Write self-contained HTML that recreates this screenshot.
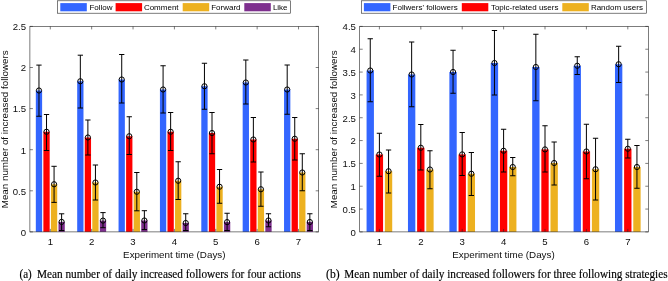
<!DOCTYPE html>
<html><head><meta charset="utf-8"><title>Figure</title>
<style>html,body{margin:0;padding:0;background:#fff}svg{display:block}</style></head>
<body>
<svg width="668" height="281" viewBox="0 0 668 281">
<rect width="668" height="281" fill="#fff"/>
<rect x="35.82" y="90.50" width="6.30" height="141.40" fill="#3366FF"/>
<rect x="43.37" y="131.75" width="6.30" height="100.15" fill="#FF0000"/>
<rect x="50.92" y="184.25" width="6.30" height="47.65" fill="#EDB120"/>
<rect x="58.48" y="221.90" width="6.30" height="10.00" fill="#7E2F8E"/>
<rect x="77.19" y="81.25" width="6.30" height="150.65" fill="#3366FF"/>
<rect x="84.74" y="137.50" width="6.30" height="94.40" fill="#FF0000"/>
<rect x="92.29" y="182.50" width="6.30" height="49.40" fill="#EDB120"/>
<rect x="99.84" y="220.60" width="6.30" height="11.30" fill="#7E2F8E"/>
<rect x="118.56" y="79.50" width="6.30" height="152.40" fill="#3366FF"/>
<rect x="126.11" y="136.25" width="6.30" height="95.65" fill="#FF0000"/>
<rect x="133.66" y="191.75" width="6.30" height="40.15" fill="#EDB120"/>
<rect x="141.22" y="220.50" width="6.30" height="11.40" fill="#7E2F8E"/>
<rect x="159.93" y="89.50" width="6.30" height="142.40" fill="#3366FF"/>
<rect x="167.48" y="131.75" width="6.30" height="100.15" fill="#FF0000"/>
<rect x="175.03" y="180.75" width="6.30" height="51.15" fill="#EDB120"/>
<rect x="182.58" y="223.00" width="6.30" height="8.90" fill="#7E2F8E"/>
<rect x="201.30" y="86.25" width="6.30" height="145.65" fill="#3366FF"/>
<rect x="208.85" y="133.00" width="6.30" height="98.90" fill="#FF0000"/>
<rect x="216.40" y="186.75" width="6.30" height="45.15" fill="#EDB120"/>
<rect x="223.95" y="222.10" width="6.30" height="9.80" fill="#7E2F8E"/>
<rect x="242.67" y="82.50" width="6.30" height="149.40" fill="#3366FF"/>
<rect x="250.22" y="139.50" width="6.30" height="92.40" fill="#FF0000"/>
<rect x="257.77" y="189.25" width="6.30" height="42.65" fill="#EDB120"/>
<rect x="265.32" y="220.50" width="6.30" height="11.40" fill="#7E2F8E"/>
<rect x="284.04" y="89.50" width="6.30" height="142.40" fill="#3366FF"/>
<rect x="291.59" y="138.75" width="6.30" height="93.15" fill="#FF0000"/>
<rect x="299.14" y="172.50" width="6.30" height="59.40" fill="#EDB120"/>
<rect x="306.69" y="222.00" width="6.30" height="9.90" fill="#7E2F8E"/>
<rect x="29.9" y="26.4" width="288.8" height="205.5" fill="none" stroke="#262626" stroke-width="0.6"/>
<path d="M50.30 231.9v-3M50.30 26.4v3" stroke="#262626" stroke-width="0.6" fill="none"/>
<text x="50.30" y="244.70" font-size="9.6" font-family="Liberation Sans, Arial, sans-serif" text-anchor="middle" fill="#0d0d0d">1</text>
<path d="M91.67 231.9v-3M91.67 26.4v3" stroke="#262626" stroke-width="0.6" fill="none"/>
<text x="91.67" y="244.70" font-size="9.6" font-family="Liberation Sans, Arial, sans-serif" text-anchor="middle" fill="#0d0d0d">2</text>
<path d="M133.04 231.9v-3M133.04 26.4v3" stroke="#262626" stroke-width="0.6" fill="none"/>
<text x="133.04" y="244.70" font-size="9.6" font-family="Liberation Sans, Arial, sans-serif" text-anchor="middle" fill="#0d0d0d">3</text>
<path d="M174.41 231.9v-3M174.41 26.4v3" stroke="#262626" stroke-width="0.6" fill="none"/>
<text x="174.41" y="244.70" font-size="9.6" font-family="Liberation Sans, Arial, sans-serif" text-anchor="middle" fill="#0d0d0d">4</text>
<path d="M215.78 231.9v-3M215.78 26.4v3" stroke="#262626" stroke-width="0.6" fill="none"/>
<text x="215.78" y="244.70" font-size="9.6" font-family="Liberation Sans, Arial, sans-serif" text-anchor="middle" fill="#0d0d0d">5</text>
<path d="M257.15 231.9v-3M257.15 26.4v3" stroke="#262626" stroke-width="0.6" fill="none"/>
<text x="257.15" y="244.70" font-size="9.6" font-family="Liberation Sans, Arial, sans-serif" text-anchor="middle" fill="#0d0d0d">6</text>
<path d="M298.52 231.9v-3M298.52 26.4v3" stroke="#262626" stroke-width="0.6" fill="none"/>
<text x="298.52" y="244.70" font-size="9.6" font-family="Liberation Sans, Arial, sans-serif" text-anchor="middle" fill="#0d0d0d">7</text>
<path d="M29.9 231.90h3M318.7 231.90h-3" stroke="#262626" stroke-width="0.6" fill="none"/>
<text x="26.10" y="235.70" font-size="9.6" font-family="Liberation Sans, Arial, sans-serif" text-anchor="end" fill="#0d0d0d">0</text>
<path d="M29.9 190.80h3M318.7 190.80h-3" stroke="#262626" stroke-width="0.6" fill="none"/>
<text x="26.10" y="194.60" font-size="9.6" font-family="Liberation Sans, Arial, sans-serif" text-anchor="end" fill="#0d0d0d">0.5</text>
<path d="M29.9 149.70h3M318.7 149.70h-3" stroke="#262626" stroke-width="0.6" fill="none"/>
<text x="26.10" y="153.50" font-size="9.6" font-family="Liberation Sans, Arial, sans-serif" text-anchor="end" fill="#0d0d0d">1</text>
<path d="M29.9 108.60h3M318.7 108.60h-3" stroke="#262626" stroke-width="0.6" fill="none"/>
<text x="26.10" y="112.40" font-size="9.6" font-family="Liberation Sans, Arial, sans-serif" text-anchor="end" fill="#0d0d0d">1.5</text>
<path d="M29.9 67.50h3M318.7 67.50h-3" stroke="#262626" stroke-width="0.6" fill="none"/>
<text x="26.10" y="71.30" font-size="9.6" font-family="Liberation Sans, Arial, sans-serif" text-anchor="end" fill="#0d0d0d">2</text>
<path d="M29.9 26.40h3M318.7 26.40h-3" stroke="#262626" stroke-width="0.6" fill="none"/>
<text x="26.10" y="30.20" font-size="9.6" font-family="Liberation Sans, Arial, sans-serif" text-anchor="end" fill="#0d0d0d">2.5</text>
<path d="M38.97 65.10V116.25M36.32 65.10h5.3M36.32 116.25h5.3" stroke="#000" stroke-width="1" fill="none"/>
<circle cx="38.97" cy="90.50" r="2.6" fill="none" stroke="#000" stroke-width="1"/>
<path d="M46.52 114.50V150.50M43.87 114.50h5.3M43.87 150.50h5.3" stroke="#000" stroke-width="1" fill="none"/>
<circle cx="46.52" cy="131.75" r="2.6" fill="none" stroke="#000" stroke-width="1"/>
<path d="M54.07 166.30V202.40M51.42 166.30h5.3M51.42 202.40h5.3" stroke="#000" stroke-width="1" fill="none"/>
<circle cx="54.07" cy="184.25" r="2.6" fill="none" stroke="#000" stroke-width="1"/>
<path d="M61.62 213.80V230.50M58.98 213.80h5.3M58.98 230.50h5.3" stroke="#000" stroke-width="1" fill="none"/>
<circle cx="61.62" cy="221.90" r="2.6" fill="none" stroke="#000" stroke-width="1"/>
<path d="M80.34 55.20V108.00M77.69 55.20h5.3M77.69 108.00h5.3" stroke="#000" stroke-width="1" fill="none"/>
<circle cx="80.34" cy="81.25" r="2.6" fill="none" stroke="#000" stroke-width="1"/>
<path d="M87.89 120.00V155.00M85.24 120.00h5.3M85.24 155.00h5.3" stroke="#000" stroke-width="1" fill="none"/>
<circle cx="87.89" cy="137.50" r="2.6" fill="none" stroke="#000" stroke-width="1"/>
<path d="M95.44 165.00V200.00M92.79 165.00h5.3M92.79 200.00h5.3" stroke="#000" stroke-width="1" fill="none"/>
<circle cx="95.44" cy="182.50" r="2.6" fill="none" stroke="#000" stroke-width="1"/>
<path d="M102.99 212.60V227.70M100.34 212.60h5.3M100.34 227.70h5.3" stroke="#000" stroke-width="1" fill="none"/>
<circle cx="102.99" cy="220.60" r="2.6" fill="none" stroke="#000" stroke-width="1"/>
<path d="M121.72 54.50V103.00M119.06 54.50h5.3M119.06 103.00h5.3" stroke="#000" stroke-width="1" fill="none"/>
<circle cx="121.72" cy="79.50" r="2.6" fill="none" stroke="#000" stroke-width="1"/>
<path d="M129.26 116.75V154.50M126.61 116.75h5.3M126.61 154.50h5.3" stroke="#000" stroke-width="1" fill="none"/>
<circle cx="129.26" cy="136.25" r="2.6" fill="none" stroke="#000" stroke-width="1"/>
<path d="M136.81 172.50V210.80M134.16 172.50h5.3M134.16 210.80h5.3" stroke="#000" stroke-width="1" fill="none"/>
<circle cx="136.81" cy="191.75" r="2.6" fill="none" stroke="#000" stroke-width="1"/>
<path d="M144.37 210.70V229.60M141.72 210.70h5.3M141.72 229.60h5.3" stroke="#000" stroke-width="1" fill="none"/>
<circle cx="144.37" cy="220.50" r="2.6" fill="none" stroke="#000" stroke-width="1"/>
<path d="M163.08 65.75V113.00M160.43 65.75h5.3M160.43 113.00h5.3" stroke="#000" stroke-width="1" fill="none"/>
<circle cx="163.08" cy="89.50" r="2.6" fill="none" stroke="#000" stroke-width="1"/>
<path d="M170.63 112.50V150.50M167.98 112.50h5.3M167.98 150.50h5.3" stroke="#000" stroke-width="1" fill="none"/>
<circle cx="170.63" cy="131.75" r="2.6" fill="none" stroke="#000" stroke-width="1"/>
<path d="M178.18 161.75V199.50M175.53 161.75h5.3M175.53 199.50h5.3" stroke="#000" stroke-width="1" fill="none"/>
<circle cx="178.18" cy="180.75" r="2.6" fill="none" stroke="#000" stroke-width="1"/>
<path d="M185.73 213.75V230.50M183.08 213.75h5.3M183.08 230.50h5.3" stroke="#000" stroke-width="1" fill="none"/>
<circle cx="185.73" cy="223.00" r="2.6" fill="none" stroke="#000" stroke-width="1"/>
<path d="M204.45 63.25V109.25M201.80 63.25h5.3M201.80 109.25h5.3" stroke="#000" stroke-width="1" fill="none"/>
<circle cx="204.45" cy="86.25" r="2.6" fill="none" stroke="#000" stroke-width="1"/>
<path d="M212.00 112.50V153.75M209.35 112.50h5.3M209.35 153.75h5.3" stroke="#000" stroke-width="1" fill="none"/>
<circle cx="212.00" cy="133.00" r="2.6" fill="none" stroke="#000" stroke-width="1"/>
<path d="M219.55 169.50V203.25M216.90 169.50h5.3M216.90 203.25h5.3" stroke="#000" stroke-width="1" fill="none"/>
<circle cx="219.55" cy="186.75" r="2.6" fill="none" stroke="#000" stroke-width="1"/>
<path d="M227.10 213.25V230.50M224.45 213.25h5.3M224.45 230.50h5.3" stroke="#000" stroke-width="1" fill="none"/>
<circle cx="227.10" cy="222.10" r="2.6" fill="none" stroke="#000" stroke-width="1"/>
<path d="M245.82 60.00V104.00M243.17 60.00h5.3M243.17 104.00h5.3" stroke="#000" stroke-width="1" fill="none"/>
<circle cx="245.82" cy="82.50" r="2.6" fill="none" stroke="#000" stroke-width="1"/>
<path d="M253.37 117.50V162.00M250.72 117.50h5.3M250.72 162.00h5.3" stroke="#000" stroke-width="1" fill="none"/>
<circle cx="253.37" cy="139.50" r="2.6" fill="none" stroke="#000" stroke-width="1"/>
<path d="M260.92 172.00V206.25M258.27 172.00h5.3M258.27 206.25h5.3" stroke="#000" stroke-width="1" fill="none"/>
<circle cx="260.92" cy="189.25" r="2.6" fill="none" stroke="#000" stroke-width="1"/>
<path d="M268.47 213.75V226.75M265.82 213.75h5.3M265.82 226.75h5.3" stroke="#000" stroke-width="1" fill="none"/>
<circle cx="268.47" cy="220.50" r="2.6" fill="none" stroke="#000" stroke-width="1"/>
<path d="M287.19 65.00V114.25M284.54 65.00h5.3M284.54 114.25h5.3" stroke="#000" stroke-width="1" fill="none"/>
<circle cx="287.19" cy="89.50" r="2.6" fill="none" stroke="#000" stroke-width="1"/>
<path d="M294.74 117.50V160.00M292.09 117.50h5.3M292.09 160.00h5.3" stroke="#000" stroke-width="1" fill="none"/>
<circle cx="294.74" cy="138.75" r="2.6" fill="none" stroke="#000" stroke-width="1"/>
<path d="M302.29 153.75V190.75M299.64 153.75h5.3M299.64 190.75h5.3" stroke="#000" stroke-width="1" fill="none"/>
<circle cx="302.29" cy="172.50" r="2.6" fill="none" stroke="#000" stroke-width="1"/>
<path d="M309.84 213.75V230.50M307.19 213.75h5.3M307.19 230.50h5.3" stroke="#000" stroke-width="1" fill="none"/>
<circle cx="309.84" cy="222.00" r="2.6" fill="none" stroke="#000" stroke-width="1"/>
<text x="174.30" y="258.10" font-size="9.8" font-family="Liberation Sans, Arial, sans-serif" text-anchor="middle" fill="#0d0d0d">Experiment time (Days)</text>
<text transform="translate(7.6,129.3) rotate(-90)" font-size="9.8" font-family="Liberation Sans, Arial, sans-serif" text-anchor="middle" fill="#0d0d0d">Mean number of increased followers</text>
<rect x="366.57" y="70.50" width="7.35" height="161.40" fill="#3366FF"/>
<rect x="375.72" y="154.50" width="7.35" height="77.40" fill="#FF0000"/>
<rect x="384.87" y="171.25" width="7.35" height="60.65" fill="#EDB120"/>
<rect x="407.97" y="74.50" width="7.35" height="157.40" fill="#3366FF"/>
<rect x="417.12" y="147.75" width="7.35" height="84.15" fill="#FF0000"/>
<rect x="426.27" y="169.50" width="7.35" height="62.40" fill="#EDB120"/>
<rect x="449.37" y="72.00" width="7.35" height="159.90" fill="#3366FF"/>
<rect x="458.52" y="154.40" width="7.35" height="77.50" fill="#FF0000"/>
<rect x="467.67" y="173.75" width="7.35" height="58.15" fill="#EDB120"/>
<rect x="490.77" y="63.00" width="7.35" height="168.90" fill="#3366FF"/>
<rect x="499.92" y="150.75" width="7.35" height="81.15" fill="#FF0000"/>
<rect x="509.07" y="167.00" width="7.35" height="64.90" fill="#EDB120"/>
<rect x="532.18" y="67.00" width="7.35" height="164.90" fill="#3366FF"/>
<rect x="541.33" y="149.40" width="7.35" height="82.50" fill="#FF0000"/>
<rect x="550.48" y="163.00" width="7.35" height="68.90" fill="#EDB120"/>
<rect x="573.58" y="65.75" width="7.35" height="166.15" fill="#3366FF"/>
<rect x="582.73" y="151.50" width="7.35" height="80.40" fill="#FF0000"/>
<rect x="591.88" y="169.25" width="7.35" height="62.65" fill="#EDB120"/>
<rect x="614.98" y="64.25" width="7.35" height="167.65" fill="#3366FF"/>
<rect x="624.12" y="148.75" width="7.35" height="83.15" fill="#FF0000"/>
<rect x="633.27" y="167.00" width="7.35" height="64.90" fill="#EDB120"/>
<rect x="359.7" y="26.4" width="288.59999999999997" height="205.5" fill="none" stroke="#262626" stroke-width="0.6"/>
<path d="M379.40 231.9v-3M379.40 26.4v3" stroke="#262626" stroke-width="0.6" fill="none"/>
<text x="379.40" y="244.70" font-size="9.6" font-family="Liberation Sans, Arial, sans-serif" text-anchor="middle" fill="#0d0d0d">1</text>
<path d="M420.80 231.9v-3M420.80 26.4v3" stroke="#262626" stroke-width="0.6" fill="none"/>
<text x="420.80" y="244.70" font-size="9.6" font-family="Liberation Sans, Arial, sans-serif" text-anchor="middle" fill="#0d0d0d">2</text>
<path d="M462.20 231.9v-3M462.20 26.4v3" stroke="#262626" stroke-width="0.6" fill="none"/>
<text x="462.20" y="244.70" font-size="9.6" font-family="Liberation Sans, Arial, sans-serif" text-anchor="middle" fill="#0d0d0d">3</text>
<path d="M503.60 231.9v-3M503.60 26.4v3" stroke="#262626" stroke-width="0.6" fill="none"/>
<text x="503.60" y="244.70" font-size="9.6" font-family="Liberation Sans, Arial, sans-serif" text-anchor="middle" fill="#0d0d0d">4</text>
<path d="M545.00 231.9v-3M545.00 26.4v3" stroke="#262626" stroke-width="0.6" fill="none"/>
<text x="545.00" y="244.70" font-size="9.6" font-family="Liberation Sans, Arial, sans-serif" text-anchor="middle" fill="#0d0d0d">5</text>
<path d="M586.40 231.9v-3M586.40 26.4v3" stroke="#262626" stroke-width="0.6" fill="none"/>
<text x="586.40" y="244.70" font-size="9.6" font-family="Liberation Sans, Arial, sans-serif" text-anchor="middle" fill="#0d0d0d">6</text>
<path d="M627.80 231.9v-3M627.80 26.4v3" stroke="#262626" stroke-width="0.6" fill="none"/>
<text x="627.80" y="244.70" font-size="9.6" font-family="Liberation Sans, Arial, sans-serif" text-anchor="middle" fill="#0d0d0d">7</text>
<path d="M359.7 231.90h3M648.3 231.90h-3" stroke="#262626" stroke-width="0.6" fill="none"/>
<text x="355.90" y="235.70" font-size="9.6" font-family="Liberation Sans, Arial, sans-serif" text-anchor="end" fill="#0d0d0d">0</text>
<path d="M359.7 209.07h3M648.3 209.07h-3" stroke="#262626" stroke-width="0.6" fill="none"/>
<text x="355.90" y="212.87" font-size="9.6" font-family="Liberation Sans, Arial, sans-serif" text-anchor="end" fill="#0d0d0d">0.5</text>
<path d="M359.7 186.23h3M648.3 186.23h-3" stroke="#262626" stroke-width="0.6" fill="none"/>
<text x="355.90" y="190.03" font-size="9.6" font-family="Liberation Sans, Arial, sans-serif" text-anchor="end" fill="#0d0d0d">1</text>
<path d="M359.7 163.40h3M648.3 163.40h-3" stroke="#262626" stroke-width="0.6" fill="none"/>
<text x="355.90" y="167.20" font-size="9.6" font-family="Liberation Sans, Arial, sans-serif" text-anchor="end" fill="#0d0d0d">1.5</text>
<path d="M359.7 140.57h3M648.3 140.57h-3" stroke="#262626" stroke-width="0.6" fill="none"/>
<text x="355.90" y="144.37" font-size="9.6" font-family="Liberation Sans, Arial, sans-serif" text-anchor="end" fill="#0d0d0d">2</text>
<path d="M359.7 117.73h3M648.3 117.73h-3" stroke="#262626" stroke-width="0.6" fill="none"/>
<text x="355.90" y="121.53" font-size="9.6" font-family="Liberation Sans, Arial, sans-serif" text-anchor="end" fill="#0d0d0d">2.5</text>
<path d="M359.7 94.90h3M648.3 94.90h-3" stroke="#262626" stroke-width="0.6" fill="none"/>
<text x="355.90" y="98.70" font-size="9.6" font-family="Liberation Sans, Arial, sans-serif" text-anchor="end" fill="#0d0d0d">3</text>
<path d="M359.7 72.07h3M648.3 72.07h-3" stroke="#262626" stroke-width="0.6" fill="none"/>
<text x="355.90" y="75.87" font-size="9.6" font-family="Liberation Sans, Arial, sans-serif" text-anchor="end" fill="#0d0d0d">3.5</text>
<path d="M359.7 49.23h3M648.3 49.23h-3" stroke="#262626" stroke-width="0.6" fill="none"/>
<text x="355.90" y="53.03" font-size="9.6" font-family="Liberation Sans, Arial, sans-serif" text-anchor="end" fill="#0d0d0d">4</text>
<path d="M359.7 26.40h3M648.3 26.40h-3" stroke="#262626" stroke-width="0.6" fill="none"/>
<text x="355.90" y="30.20" font-size="9.6" font-family="Liberation Sans, Arial, sans-serif" text-anchor="end" fill="#0d0d0d">4.5</text>
<path d="M370.25 38.75V101.75M367.60 38.75h5.3M367.60 101.75h5.3" stroke="#000" stroke-width="1" fill="none"/>
<circle cx="370.25" cy="70.50" r="2.6" fill="none" stroke="#000" stroke-width="1"/>
<path d="M379.40 133.25V176.25M376.75 133.25h5.3M376.75 176.25h5.3" stroke="#000" stroke-width="1" fill="none"/>
<circle cx="379.40" cy="154.50" r="2.6" fill="none" stroke="#000" stroke-width="1"/>
<path d="M388.55 150.00V193.00M385.90 150.00h5.3M385.90 193.00h5.3" stroke="#000" stroke-width="1" fill="none"/>
<circle cx="388.55" cy="171.25" r="2.6" fill="none" stroke="#000" stroke-width="1"/>
<path d="M411.65 42.00V106.75M409.00 42.00h5.3M409.00 106.75h5.3" stroke="#000" stroke-width="1" fill="none"/>
<circle cx="411.65" cy="74.50" r="2.6" fill="none" stroke="#000" stroke-width="1"/>
<path d="M420.80 124.50V170.00M418.15 124.50h5.3M418.15 170.00h5.3" stroke="#000" stroke-width="1" fill="none"/>
<circle cx="420.80" cy="147.75" r="2.6" fill="none" stroke="#000" stroke-width="1"/>
<path d="M429.95 150.75V188.75M427.30 150.75h5.3M427.30 188.75h5.3" stroke="#000" stroke-width="1" fill="none"/>
<circle cx="429.95" cy="169.50" r="2.6" fill="none" stroke="#000" stroke-width="1"/>
<path d="M453.05 50.25V93.25M450.40 50.25h5.3M450.40 93.25h5.3" stroke="#000" stroke-width="1" fill="none"/>
<circle cx="453.05" cy="72.00" r="2.6" fill="none" stroke="#000" stroke-width="1"/>
<path d="M462.20 132.50V175.50M459.55 132.50h5.3M459.55 175.50h5.3" stroke="#000" stroke-width="1" fill="none"/>
<circle cx="462.20" cy="154.40" r="2.6" fill="none" stroke="#000" stroke-width="1"/>
<path d="M471.35 152.50V195.50M468.70 152.50h5.3M468.70 195.50h5.3" stroke="#000" stroke-width="1" fill="none"/>
<circle cx="471.35" cy="173.75" r="2.6" fill="none" stroke="#000" stroke-width="1"/>
<path d="M494.45 30.50V95.00M491.80 30.50h5.3M491.80 95.00h5.3" stroke="#000" stroke-width="1" fill="none"/>
<circle cx="494.45" cy="63.00" r="2.6" fill="none" stroke="#000" stroke-width="1"/>
<path d="M503.60 129.25V172.00M500.95 129.25h5.3M500.95 172.00h5.3" stroke="#000" stroke-width="1" fill="none"/>
<circle cx="503.60" cy="150.75" r="2.6" fill="none" stroke="#000" stroke-width="1"/>
<path d="M512.75 157.50V175.75M510.10 157.50h5.3M510.10 175.75h5.3" stroke="#000" stroke-width="1" fill="none"/>
<circle cx="512.75" cy="167.00" r="2.6" fill="none" stroke="#000" stroke-width="1"/>
<path d="M535.85 34.25V100.75M533.20 34.25h5.3M533.20 100.75h5.3" stroke="#000" stroke-width="1" fill="none"/>
<circle cx="535.85" cy="67.00" r="2.6" fill="none" stroke="#000" stroke-width="1"/>
<path d="M545.00 125.75V172.00M542.35 125.75h5.3M542.35 172.00h5.3" stroke="#000" stroke-width="1" fill="none"/>
<circle cx="545.00" cy="149.40" r="2.6" fill="none" stroke="#000" stroke-width="1"/>
<path d="M554.15 142.00V185.00M551.50 142.00h5.3M551.50 185.00h5.3" stroke="#000" stroke-width="1" fill="none"/>
<circle cx="554.15" cy="163.00" r="2.6" fill="none" stroke="#000" stroke-width="1"/>
<path d="M577.25 56.75V74.50M574.60 56.75h5.3M574.60 74.50h5.3" stroke="#000" stroke-width="1" fill="none"/>
<circle cx="577.25" cy="65.75" r="2.6" fill="none" stroke="#000" stroke-width="1"/>
<path d="M586.40 124.25V178.75M583.75 124.25h5.3M583.75 178.75h5.3" stroke="#000" stroke-width="1" fill="none"/>
<circle cx="586.40" cy="151.50" r="2.6" fill="none" stroke="#000" stroke-width="1"/>
<path d="M595.55 138.25V200.00M592.90 138.25h5.3M592.90 200.00h5.3" stroke="#000" stroke-width="1" fill="none"/>
<circle cx="595.55" cy="169.25" r="2.6" fill="none" stroke="#000" stroke-width="1"/>
<path d="M618.65 46.25V82.50M616.00 46.25h5.3M616.00 82.50h5.3" stroke="#000" stroke-width="1" fill="none"/>
<circle cx="618.65" cy="64.25" r="2.6" fill="none" stroke="#000" stroke-width="1"/>
<path d="M627.80 139.25V158.00M625.15 139.25h5.3M625.15 158.00h5.3" stroke="#000" stroke-width="1" fill="none"/>
<circle cx="627.80" cy="148.75" r="2.6" fill="none" stroke="#000" stroke-width="1"/>
<path d="M636.95 145.50V188.25M634.30 145.50h5.3M634.30 188.25h5.3" stroke="#000" stroke-width="1" fill="none"/>
<circle cx="636.95" cy="167.00" r="2.6" fill="none" stroke="#000" stroke-width="1"/>
<text x="503.50" y="258.10" font-size="9.8" font-family="Liberation Sans, Arial, sans-serif" text-anchor="middle" fill="#0d0d0d">Experiment time (Days)</text>
<text transform="translate(337.3,129.3) rotate(-90)" font-size="9.8" font-family="Liberation Sans, Arial, sans-serif" text-anchor="middle" fill="#0d0d0d">Mean number of increased followers</text>
<rect x="57.6" y="0.8" width="232.79999999999998" height="12.4" fill="#fff" stroke="#262626" stroke-width="0.6"/>
<rect x="60.3" y="3.1" width="26.5" height="8.2" fill="#3366FF"/>
<text x="89.4" y="10" font-size="8.0" font-family="Liberation Sans, Arial, sans-serif" fill="#000">Follow</text>
<rect x="115.6" y="3.1" width="26.5" height="8.2" fill="#FF0000"/>
<text x="143.9" y="10" font-size="8.0" font-family="Liberation Sans, Arial, sans-serif" fill="#000">Comment</text>
<rect x="182.7" y="3.1" width="26.5" height="8.2" fill="#EDB120"/>
<text x="211.2" y="10" font-size="8.0" font-family="Liberation Sans, Arial, sans-serif" fill="#000">Forward</text>
<rect x="244.3" y="3.1" width="26.5" height="8.2" fill="#7E2F8E"/>
<text x="272.9" y="10" font-size="8.0" font-family="Liberation Sans, Arial, sans-serif" fill="#000">Like</text>
<rect x="361.3" y="0.8" width="284.99999999999994" height="12.4" fill="#fff" stroke="#262626" stroke-width="0.6"/>
<rect x="363.9" y="3.1" width="26.5" height="8.2" fill="#3366FF"/>
<text x="392.6" y="10" font-size="8.0" font-family="Liberation Sans, Arial, sans-serif" fill="#000">Follwers' followers</text>
<rect x="461.8" y="3.1" width="26.5" height="8.2" fill="#FF0000"/>
<text x="490.9" y="10" font-size="8.0" font-family="Liberation Sans, Arial, sans-serif" fill="#000">Topic-related users</text>
<rect x="562.3" y="3.1" width="26.5" height="8.2" fill="#EDB120"/>
<text x="590.9" y="10" font-size="8.0" font-family="Liberation Sans, Arial, sans-serif" fill="#000">Random users</text>
<text x="19.5" y="278" font-size="12.0" font-family="Liberation Serif, Times New Roman, serif" fill="#000" stroke="#000" stroke-width="0.15" textLength="12.2" lengthAdjust="spacingAndGlyphs">(a)</text>
<text x="36.9" y="278" font-size="12.0" font-family="Liberation Serif, Times New Roman, serif" fill="#000" stroke="#000" stroke-width="0.15" textLength="263.9" lengthAdjust="spacingAndGlyphs">Mean number of daily increased followers for four actions</text>
<text x="326.0" y="278" font-size="12.0" font-family="Liberation Serif, Times New Roman, serif" fill="#000" stroke="#000" stroke-width="0.15" textLength="13.6" lengthAdjust="spacingAndGlyphs">(b)</text>
<text x="344.3" y="278" font-size="12.0" font-family="Liberation Serif, Times New Roman, serif" fill="#000" stroke="#000" stroke-width="0.15" textLength="323.3" lengthAdjust="spacingAndGlyphs">Mean number of daily increased followers for three following strategies</text>
</svg>
</body></html>
